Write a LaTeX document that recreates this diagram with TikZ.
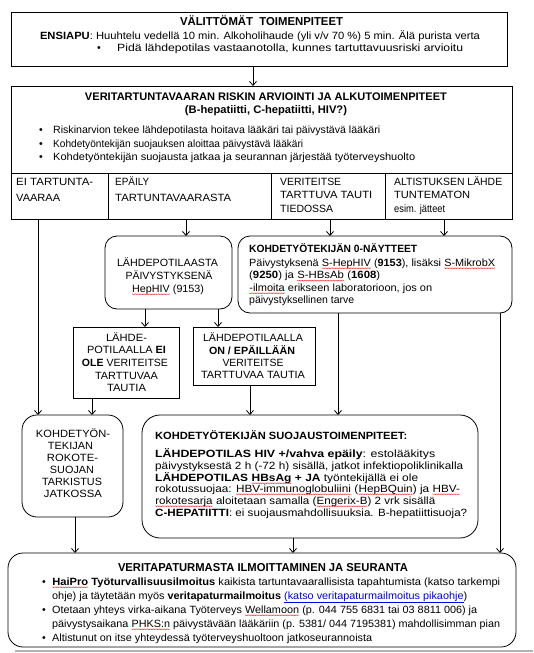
\documentclass[tikz,border=0pt]{standalone}
\usepackage{fontspec}
\setmainfont{Liberation Sans}
\usepackage{graphicx}
\usetikzlibrary{arrows.meta,decorations.pathmorphing}
\definecolor{linkblue}{RGB}{0,0,230}
\newcommand\fs{\fontsize{10.5}{12}\selectfont}
\newcommand\W[2]{\resizebox{#1pt}{\height}{#2}}
\newcommand\sq[1]{\tikz[baseline=(sqw.base)]{\node[inner sep=0pt, outer sep=0pt, anchor=base] (sqw) {#1};
  \draw[red!90, line width=0.3pt, decorate, decoration={zigzag, amplitude=0.45pt, segment length=1.5pt}] ([yshift=-2.2pt]sqw.base west) -- ([yshift=-2.2pt]sqw.base east);}}
\begin{document}
\begin{tikzpicture}[x=1pt,y=-1pt,
  box/.style={draw, line width=0.8pt, inner sep=0pt, outer sep=0pt},
  rbox/.style={box, rounded corners=12pt},
  arr/.style={line width=0.8pt, -{Straight Barb[length=4pt,width=7pt]}},
  tl/.style={anchor=base west, inner sep=0pt, font=\fs},
  tc/.style={anchor=base, inner sep=0pt, font=\fs},
  tb/.style={anchor=base, inner sep=0pt, font=\fontsize{11}{13}\selectfont\bfseries},
]
\useasboundingbox (0,0) rectangle (533,653);
% boxes
\node[box, minimum width=496pt, minimum height=54pt] (b1) at (259,39) {};
\node[box, minimum width=501pt, minimum height=87pt] (b2) at (261.5,129.5) {};
\node[box, minimum width=97pt, minimum height=46pt] (c1) at (59.5,196) {};
\node[box, minimum width=163pt, minimum height=46pt] (c2) at (189.5,196) {};
\node[box, minimum width=114pt, minimum height=46pt] (c3) at (328,196) {};
\node[box, minimum width=127pt, minimum height=46pt] (c4) at (448.5,196) {};
\node[rbox, minimum width=127pt, minimum height=73pt] (lp) at (168.5,272.5) {};
\node[rbox, minimum width=274pt, minimum height=77pt] (ny) at (375,274.5) {};
\node[box, minimum width=106pt, minimum height=71pt] (eo) at (126,362.5) {};
\node[box, minimum width=122pt, minimum height=58pt] (on) at (254,356) {};
\node[rbox, rounded corners=15pt, minimum width=101pt, minimum height=102pt] (rk) at (72.5,466) {};
\node[rbox, rounded corners=18pt, minimum width=336pt, minimum height=123pt] (sj) at (310,476.5) {};
\node[rbox, rounded corners=15pt, minimum width=508pt, minimum height=94pt] (fi) at (262,600) {};
\draw[gray!60, line width=1.5pt] (15,651) -- (533,651);
% x positions of connectors
\foreach \n/\x in {xa/253,xb/38,xc/186,xd/330,xe/444,xf/145,xg/218,xh/92,xi/250,xj/338,xk/500,xl/75,xm/293}
  \coordinate (\n) at (\x,0);
% connectors
\draw[arr] (b1.south -| xa) -- (b2.north -| xa);
\draw[arr] (c1.south -| xb) -- (rk.north -| xb);
\draw[arr] (c2.south -| xc) -- (lp.north -| xc);
\draw[arr] (c3.south -| xd) -- (ny.north -| xd);
\draw[arr] (c4.south -| xe) -- (ny.north -| xe);
\draw[arr] (lp.south -| xf) -- (eo.north -| xf);
\draw[arr] (lp.south -| xg) -- (on.north -| xg);
\draw[arr] (eo.south -| xh) -- (rk.north -| xh);
\draw[arr] (on.south -| xi) -- (sj.north -| xi);
\draw[arr] (ny.south -| xj) -- (sj.north -| xj);
\draw[arr] (ny.south -| xk) -- (fi.north -| xk);
\draw[arr] (rk.south -| xl) -- (fi.north -| xl);
\draw[arr] (sj.south -| xm) -- (fi.north -| xm);
% box 1 text
\node[tb, font=\fontsize{11.5}{13}\selectfont\bfseries] (t1a) at (261.5,26) {\W{163}{VÄLITTÖMÄT\ \ TOIMENPITEET}};
\node[tc] (t1b) at (260,39) {\W{440}{\textbf{ENSIAPU}: Huuhtelu vedellä 10 min. Alkoholihaude (yli v/v 70 \%) 5 min. Älä purista verta}};
\node[tl] (t1c) at (97,51) {•};
\node[tl] (t1d) at (117,51) {\W{346}{Pidä lähdepotilas vastaanotolla, kunnes tartuttavuusriski arvioitu}};
% box 2 text
\node[tb] (t2a) at (266,100) {\W{362}{VERITARTUNTAVAARAN RISKIN ARVIOINTI JA ALKUTOIMENPITEET}};
\node[tb] (t2b) at (266,113) {\W{162}{(B-hepatiitti, C-hepatiitti, HIV?)}};
\node[tl] (t2c) at (39,133) {•};
\node[tl] (t2d) at (53,133) {\W{327}{Riskinarvion tekee lähdepotilasta hoitava lääkäri tai päivystävä lääkäri}};
\node[tl] (t2e) at (39,147) {•};
\node[tl] (t2f) at (53,147) {\W{250}{Kohdetyöntekijän suojauksen aloittaa päivystävä lääkäri}};
\node[tl] (t2g) at (39,160) {•};
\node[tl] (t2h) at (53,160) {\W{362}{Kohdetyöntekijän suojausta jatkaa ja seurannan järjestää työterveyshuolto}};
% cells
\node[tl] (c1a) at (16,185) {\W{77}{EI TARTUNTA-}};
\node[tl] (c1b) at (16,201) {\W{44}{VAARAA}};
\node[tl] (c2a) at (115,185.5) {\W{34}{EPÄILY}};
\node[tl] (c2b) at (115,201) {\W{116}{TARTUNTAVAARASTA}};
\node[tl] (c3a) at (280,185.5) {\W{61}{VERITEITSE}};
\node[tl] (c3b) at (280,198.5) {\W{92}{TARTTUVA TAUTI}};
\node[tl] (c3c) at (280,212) {\W{53}{TIEDOSSA}};
\node[tl] (c4a) at (394,185.5) {\W{108}{ALTISTUKSEN LÄHDE}};
\node[tl] (c4b) at (394,198.5) {\W{76}{TUNTEMATON}};
\node[tl] (c4c) at (394,212) {\W{51}{esim. jätteet}};
% lp
\node[tc] (lpa) at (167.5,266) {\W{101}{LÄHDEPOTILAASTA}};
\node[tc] (lpb) at (169,279) {\W{87}{PÄIVYSTYKSENÄ}};
\node[tc] (lpc) at (168,292) {\W{72}{\sq{HepHIV} (9153)}};
% ny
\node[tl] (nya) at (249,252) {\W{168}{\textbf{KOHDETYÖTEKIJÄN 0-NÄYTTEET}}};
\node[tl] (nyb) at (249,266) {\W{246}{Päivystyksenä \sq{S-HepHIV} (\textbf{9153}), lisäksi \sq{S-MikrobX}}};
\node[tl] (nyc) at (249,278.5) {\W{131}{(\textbf{9250}) ja \sq{S-HBsAb}\ (\textbf{1608})}};
\node[tl] (nyd) at (249,291) {\W{183}{\sq{-ilmoita} erikseen laboratorioon, jos on}};
\node[tl] (nye) at (249,303.5) {päivystyksellinen tarve};
% eo
\node[tc] (eoa) at (126.5,341) {\W{41}{LÄHDE-}};
\node[tc] (eob) at (126.5,353) {\W{79}{POTILAALLA \textbf{EI}}};
\node[tc] (eoc) at (125,366) {\W{86}{\textbf{OLE} VERITEITSE}};
\node[tc] (eod) at (126.5,379) {\W{63}{TARTTUVAA}};
\node[tc] (eoe) at (126.5,391) {\W{39}{TAUTIA}};
% on
\node[tc] (ona) at (253,341) {\W{100}{LÄHDEPOTILAALLA}};
\node[tc] (onb) at (252,354) {\W{86}{\textbf{ON / EPÄILLÄÄN}}};
\node[tc] (onc) at (253,366) {\W{61}{VERITEITSE}};
\node[tc] (ond) at (253,378) {\W{104}{TARTTUVAA TAUTIA}};
% rk
\node[tc] (rka) at (73,437) {\W{74}{KOHDETYÖN-}};
\node[tc] (rkb) at (70.5,449) {\W{45}{TEKIJAN}};
\node[tc] (rkc) at (72.5,461) {\W{51}{ROKOTE-}};
\node[tc] (rkd) at (72,473) {\W{44}{SUOJAN}};
\node[tc] (rke) at (72,485) {\W{60}{TARKISTUS}};
\node[tc] (rkf) at (73,497) {\W{58}{JATKOSSA}};
% sj
\node[tl] (sja) at (155,439) {\W{252}{\textbf{KOHDETYÖTEKIJÄN SUOJAUSTOIMENPITEET:}}};
\node[tl] (sjb) at (155,457) {\W{280}{\textbf{LÄHDEPOTILAS HIV +/vahva epäily}: estolääkitys}};
\node[tl] (sjc) at (155,469) {\W{308}{päivystyksestä 2 h (-72 h) sisällä, jatkot infektiopoliklinikalla}};
\node[tl] (sjd) at (155,481) {\W{263}{\textbf{LÄHDEPOTILAS \sq{HBsAg} + JA} työntekijällä ei ole}};
\node[tl] (sje) at (155,492) {\W{305}{rokotussuojaa: \sq{HBV-immunoglobuliini} (\sq{HepBQuin}) ja \sq{HBV-}}};
\node[tl] (sjf) at (155,504) {\W{280}{\sq{rokotesarja} aloitetaan samalla (\sq{Engerix-B}) 2 vrk sisällä}};
\node[tl] (sjg) at (155,516) {\W{312}{\textbf{C-HEPATIITTI}: ei suojausmahdollisuuksia. B-hepatiittisuoja?}};
% fi
\node[tb, font=\fontsize{11.5}{14}\selectfont\bfseries] (fia) at (263,571) {\W{290}{VERITAPATURMASTA ILMOITTAMINEN JA SEURANTA}};
\node[tl] (fib) at (42,585) {•};
\node[tl] (fic) at (52,585) {\W{448}{\textbf{\sq{HaiPro} Työturvallisuusilmoitus} kaikista tartuntavaarallisista tapahtumista (katso tarkempi}};
\node[tl] (fid) at (52,599) {\W{415}{ohje) ja täytetään myös \textbf{veritapaturmailmoitus} \textcolor{linkblue}{\underline{(katso veritapaturmailmoitus pikaohje}})}};
\node[tl] (fie) at (42,613) {•};
\node[tl] (fif) at (52,613) {\W{425}{Otetaan yhteys virka-aikana Työterveys \sq{Wellamoon} (p. 044 755 6831 tai 03 8811 006) ja}};
\node[tl] (fig) at (52,627) {\W{448}{päivystysaikana \sq{PHKS:n} päivystävään lääkäriin (p. 5381/ 044 7195381) mahdollisimman pian}};
\node[tl] (fih) at (42,641) {•};
\node[tl] (fii) at (52,641) {\W{320}{Altistunut on itse yhteydessä työterveyshuoltoon jatkoseurannoista}};
\end{tikzpicture}
\end{document}
